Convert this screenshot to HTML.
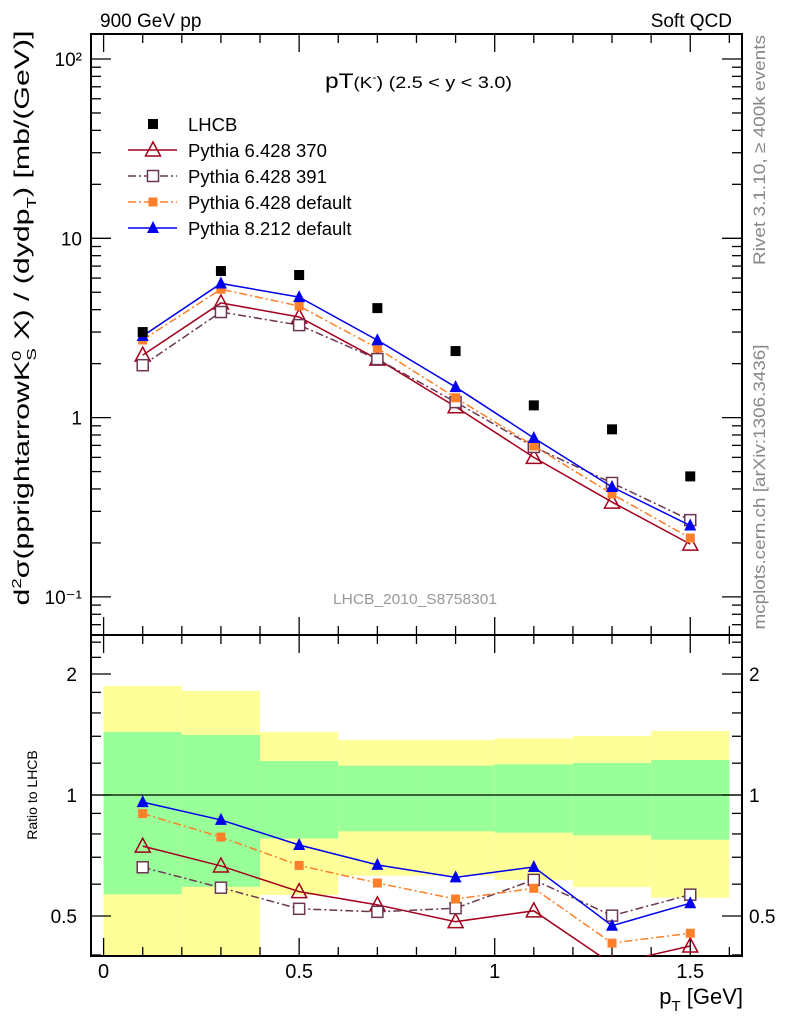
<!DOCTYPE html>
<html><head><meta charset="utf-8"><style>
html,body{margin:0;padding:0;background:#fff;}
svg{display:block;font-family:"Liberation Sans",sans-serif;}
</style></head><body>
<svg id="c" width="786" height="1024" viewBox="0 0 786 1024" xmlns="http://www.w3.org/2000/svg">
<defs>
<clipPath id="clipM"><rect x="91" y="34" width="651" height="601"/></clipPath>
<clipPath id="clipR"><rect x="91" y="635" width="651" height="321"/></clipPath>
</defs>
<g id="bands" clip-path="url(#clipR)"></g>
<g id="grid"></g>
<g id="series"></g>
<text x="100" y="27" font-size="19">900 GeV pp</text>
<text x="732" y="27" font-size="19" text-anchor="end">Soft QCD</text>
<text x="325" y="88" font-size="21" textLength="187" lengthAdjust="spacingAndGlyphs">pT<tspan font-size="16">(K</tspan><tspan font-size="11" dy="-7">-</tspan><tspan font-size="17" dy="7">) (2.5 &lt; y &lt; 3.0)</tspan></text>
<text x="415" y="604" font-size="15" fill="#999" text-anchor="middle" textLength="164" lengthAdjust="spacingAndGlyphs">LHCB_2010_S8758301</text>
<text transform="translate(765,150) rotate(-90)" font-size="17" fill="#888" text-anchor="middle" textLength="230" lengthAdjust="spacingAndGlyphs">Rivet 3.1.10, ≥ 400k events</text>
<text transform="translate(765,487) rotate(-90)" font-size="17" fill="#888" text-anchor="middle" textLength="285" lengthAdjust="spacingAndGlyphs">mcplots.cern.ch [arXiv:1306.3436]</text>
<text transform="translate(29,318) rotate(-90)" font-size="21" text-anchor="middle" textLength="575" lengthAdjust="spacingAndGlyphs">d<tspan font-size="13" dy="-8">2</tspan><tspan dy="8">σ(pprightarrowK</tspan><tspan font-size="13" dy="-8">0</tspan><tspan font-size="13" dx="-7" dy="15">S</tspan><tspan dy="-7"> X) / (dydp</tspan><tspan font-size="13" dy="7">T</tspan><tspan dy="-7">) [mb/(GeV)]</tspan></text>
<text transform="translate(37,795) rotate(-90)" font-size="14" text-anchor="middle">Ratio to LHCB</text>
<text x="743" y="1004" font-size="22" text-anchor="end">p<tspan font-size="15" dy="7">T</tspan><tspan dy="-7"> [GeV]</tspan></text>
<g id="legend"></g>
</svg>
<script>
const xVals=[0.1,0.3,0.5,0.7,0.9,1.1,1.3,1.5];
const binEdges=[0,0.2,0.4,0.6,0.8,1.0,1.2,1.4,1.6];
const lhcb=[3.0,6.57,6.24,4.08,2.35,1.17,0.86,0.47];
const py370=[2.23,4.36,3.64,2.12,1.15,0.60,0.338,0.197];
const py391=[1.96,3.88,3.28,2.12,1.22,0.686,0.432,0.268];
const py6def=[2.71,5.2,4.19,2.44,1.29,0.695,0.375,0.213];
const py8def=[2.85,5.6,4.7,2.7,1.48,0.77,0.41,0.25];
const r370=[0.746,0.666,0.575,0.533,0.484,0.515,0.38,0.421];
const r391=[0.661,0.588,0.521,0.512,0.523,0.615,0.501,0.565];
const r6def=[0.899,0.786,0.668,0.604,0.551,0.586,0.428,0.453];
const r8def=[0.96,0.867,0.751,0.67,0.624,0.662,0.473,0.538];
const yelHi=[1.867,1.815,1.434,1.37,1.37,1.383,1.402,1.443];
const yelLo=[0.3,0.3,0.564,0.63,0.63,0.615,0.59,0.555];
const grnHi=[1.434,1.41,1.215,1.183,1.183,1.192,1.201,1.222];
const grnLo=[0.566,0.591,0.779,0.812,0.812,0.806,0.794,0.774];
const xTicks=[0,0.5,1,1.5];
const xTickLabels=["0","0.5","1","1.5"];
const mainTicks=[100,10,1,0.1];
const mainTickLabels=["10²","10","1","10⁻¹"];
const ratioTicks=[0.5,1,2];
const ratioTickLabels=["0.5","1","2"];

const NS="http://www.w3.org/2000/svg";
const L=91,R=742,MT=34,MB=635,RT=635,RB=956;
const X=v=>103.6+v*391.1;
const YM=v=>417.6-Math.log10(v)*179.3;
const YR=v=>795-Math.log2(v)*121;
function el(p,t,a){const e=document.createElementNS(NS,t);for(const k in a)e.setAttribute(k,a[k]);p.appendChild(e);return e;}
const bands=document.getElementById('bands');
const grid=document.getElementById('grid');
const series=document.getElementById('series');
const legend=document.getElementById('legend');

for(let i=0;i<xVals.length;i++){
  const x0=X(binEdges[i]),x1=X(binEdges[i+1]);
  let r=el(bands,'rect',{x:x0,y:YR(yelHi[i]),width:x1-x0,height:YR(yelLo[i])-YR(yelHi[i]),fill:'#ffff99'});
  
  
  r=el(bands,'rect',{x:x0,y:YR(grnHi[i]),width:x1-x0,height:YR(grnLo[i])-YR(grnHi[i]),fill:'#99ff99'});
  
  
}
el(grid,'line',{x1:L,x2:R,y1:YR(1),y2:YR(1),stroke:'#000','stroke-width':1.3});
let f=el(grid,'rect',{x:L,y:MT,width:R-L,height:MB-MT,fill:'none',stroke:'#000','stroke-width':2});

f=el(grid,'rect',{x:L,y:RT,width:R-L,height:RB-RT,fill:'none',stroke:'#000','stroke-width':2});

for(let k=0;k<=16;k++){const v=k*0.1;const x=X(v);const maj=(k%5===0);const len=maj?18:9;
 [[MT,1],[MB,-1],[RT,1],[RB,-1]].forEach(([y,d])=>el(grid,'line',{x1:x,x2:x,y1:y,y2:y+d*len,stroke:'#000','stroke-width':1.3}));}
xTicks.forEach((v,i)=>{const t=el(grid,'text',{x:X(v),y:978,'font-size':20,'text-anchor':'middle'});t.textContent=xTickLabels[i];
 });
for(let d=-2;d<=2;d++){for(let m=1;m<10;m++){const v=m*Math.pow(10,d);const y=YM(v);if(y<MT||y>MB)continue;const len=m===1?20:10;
 el(grid,'line',{x1:L,x2:L+len,y1:y,y2:y,stroke:'#000','stroke-width':1.3});el(grid,'line',{x1:R,x2:R-len,y1:y,y2:y,stroke:'#000','stroke-width':1.3});}}
mainTicks.forEach((v,i)=>{const t=el(grid,'text',{x:82,y:YM(v)+7,'font-size':19,'text-anchor':'end'});t.textContent=mainTickLabels[i];
 });
const rt=[0.4,0.5,0.6,0.7,0.8,0.9,1,1.2,1.4,1.6,1.8,2,2.2,2.4];
rt.forEach(v=>{const y=YR(v);if(y<RT||y>RB)return;const len=(v===0.5||v===1||v===2)?20:10;
 el(grid,'line',{x1:L,x2:L+len,y1:y,y2:y,stroke:'#000','stroke-width':1.3});el(grid,'line',{x1:R,x2:R-len,y1:y,y2:y,stroke:'#000','stroke-width':1.3});});
ratioTicks.forEach((v,i)=>{let t=el(grid,'text',{x:77,y:YR(v)+7,'font-size':19,'text-anchor':'end'});t.textContent=ratioTickLabels[i];
 
 t=el(grid,'text',{x:749,y:YR(v)+7,'font-size':19});t.textContent=ratioTickLabels[i];
 });

function marker(g,type,color,x,y){
 if(type==='sq')return el(g,'rect',{x:x-5,y:y-5,width:10,height:10,fill:color});
 if(type==='osq')return el(g,'rect',{x:x-5.5,y:y-5.5,width:11,height:11,fill:'#fff',stroke:color,'stroke-width':1.5});
 if(type==='fsq')return el(g,'rect',{x:x-4.5,y:y-4.5,width:9,height:9,fill:color});
 if(type==='otri')return el(g,'polygon',{points:`${x},${y-8} ${x-7.5},${y+6} ${x+7.5},${y+6}`,fill:'none',stroke:color,'stroke-width':1.5});
 if(type==='ftri')return el(g,'polygon',{points:`${x},${y-7} ${x-6},${y+5} ${x+6},${y+5}`,fill:color});
}
const defs=[
 {name:'pythia-6428-370',label:'Pythia 6.428 370',color:'#a3001c',m:'otri',dash:'',main:py370,ratio:r370},
 {name:'pythia-6428-391',label:'Pythia 6.428 391',color:'#6b3752',m:'osq',dash:'8 3 2 3',main:py391,ratio:r391},
 {name:'pythia-6428-default',label:'Pythia 6.428 default',color:'#ff7f2a',m:'fsq',dash:'8 3 2 3',main:py6def,ratio:r6def},
 {name:'pythia-8212-default',label:'Pythia 8.212 default',color:'#0000ee',m:'ftri',dash:'',main:py8def,ratio:r8def}
];
defs.forEach(s=>{
 [[s.main,YM,'clipM','main'],[s.ratio,YR,'clipR','ratio']].forEach(([arr,Y,clip,pn])=>{
  const g=el(series,'g',{'clip-path':`url(#${clip})`});
  
  
  const pts=arr.map((v,i)=>X(xVals[i])+','+Y(v)).join(' ');
  const a={points:pts,fill:'none',stroke:s.color,'stroke-width':1.5};if(s.dash)a['stroke-dasharray']=s.dash;
  el(g,'polyline',a);
  arr.forEach((v,i)=>{const m=marker(g,s.m,s.color,X(xVals[i]),Y(v));
   
   });
 });
});
const gd=el(series,'g',{'clip-path':'url(#clipM)'});


lhcb.forEach((v,i)=>{const m=marker(gd,'sq','#000',X(xVals[i]),YM(v));
 
 });
const rows=[{label:'LHCB',color:'#000',m:'sq',dash:null}].concat(defs);
rows.forEach((s,i)=>{const y=124+i*26;const g=el(legend,'g',{});
 
 
 if(s.dash!==null){const a={x1:128,x2:177,y1:y,y2:y,stroke:s.color,'stroke-width':1.5};if(s.dash)a['stroke-dasharray']=s.dash;el(g,'line',a);}
 marker(g,s.m,s.color,153,y);
 const t=el(g,'text',{x:188,y:y+7,'font-size':18.5});t.textContent=s.label;});
</script>
</body></html>
